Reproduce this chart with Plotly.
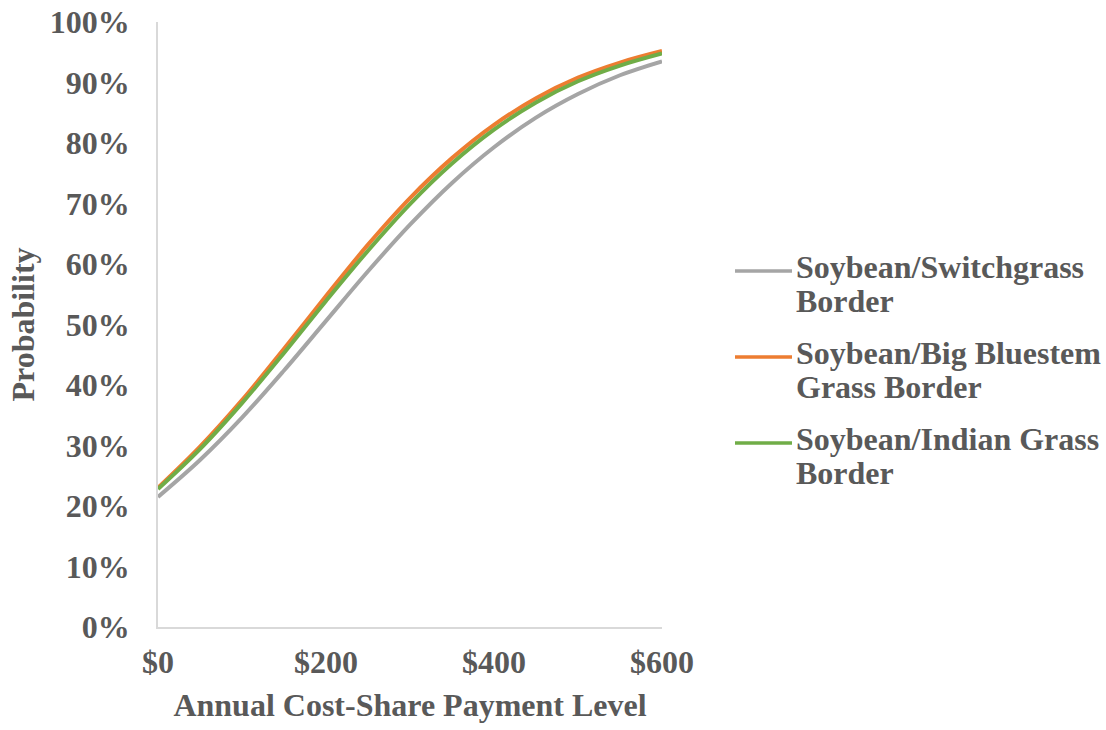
import plotly.graph_objects as go

# Annual cost-share payment level ($)
payment = [0, 50, 100, 150, 200, 250, 300, 350, 400, 450, 500, 550, 600]

# Predicted adoption probability (%) for each border type
switchgrass = [21.5, 27.6, 34.6, 42.4, 50.6, 58.8, 66.5, 73.4, 79.3, 84.2, 88.1, 91.2, 93.5]
big_bluestem = [23.0, 29.8, 37.5, 46.0, 54.7, 63.2, 70.9, 77.5, 83.0, 87.4, 90.8, 93.3, 95.2]
indian_grass = [22.8, 29.4, 37.0, 45.3, 53.9, 62.2, 69.9, 76.6, 82.2, 86.7, 90.2, 92.8, 94.8]

x_ticks = [0, 200, 400, 600]
x_tick_text = ["$0", "$200", "$400", "$600"]
y_ticks = [0, 10, 20, 30, 40, 50, 60, 70, 80, 90, 100]
y_tick_text = [f"{v}%" for v in y_ticks]

# legend label lines for each series
series = [
    (["Soybean/Switchgrass", "Border"], switchgrass, "#a5a5a5"),
    (["Soybean/Big Bluestem", "Grass Border"], big_bluestem, "#ed7d31"),
    (["Soybean/Indian Grass", "Border"], indian_grass, "#70ad47"),
]

FONT = "Liberation Serif"
TEXT = "#595959"
SIZE = 32

fig = go.Figure()
for lines, vals, color in series:
    fig.add_trace(go.Scatter(
        x=payment, y=vals, name=" ".join(lines), mode="lines",
        line=dict(color=color, width=4, shape="spline", smoothing=1.0),
        showlegend=False,
    ))

# Legend drawn beside the plot: a short line sample plus two text rows per entry
W, H = 1106, 730
L, R, T, B = 158, 444, 22, 103
pw, ph = W - L - R, H - T - B


def px_x(x):
    return (x - L) / pw


def px_y(y):
    return 1 - (y - T) / ph


row_tops = [271, 357, 443]
for (lines, _, color), y0 in zip(series, row_tops):
    fig.add_shape(type="line", xref="paper", yref="paper",
                  x0=px_x(735), x1=px_x(792), y0=px_y(y0), y1=px_y(y0),
                  line=dict(color=color, width=3.5))
    for k, txt in enumerate(lines):
        fig.add_annotation(xref="paper", yref="paper", x=px_x(794), y=px_y(y0 - 4 + 34 * k),
                           xanchor="left", yanchor="middle", showarrow=False,
                           text=f"<b>{txt}</b>",
                           font=dict(family=FONT, size=SIZE, color=TEXT))

fig.update_layout(
    width=W, height=H,
    margin=dict(l=L, r=R, t=T, b=B, autoexpand=False),
    paper_bgcolor="white", plot_bgcolor="white",
    font=dict(family=FONT, color=TEXT, size=SIZE),
    showlegend=False,
    xaxis=dict(
        range=[0, 600], tickvals=x_ticks, ticktext=x_tick_text,
        showgrid=False, zeroline=False, showline=True, linecolor="#d9d9d9", linewidth=1.5,
        ticks="", ticklen=0, ticklabelstandoff=6, automargin=False,
        tickfont=dict(family=FONT, size=SIZE, color=TEXT, weight="bold"),
        title=dict(text="<b>Annual Cost-Share Payment Level</b>", standoff=14,
                   font=dict(family=FONT, size=SIZE, color=TEXT)),
    ),
    yaxis=dict(
        range=[0, 100], tickvals=y_ticks, ticktext=y_tick_text,
        showgrid=False, zeroline=False, showline=True, linecolor="#d9d9d9", linewidth=1.5,
        ticks="", ticklen=0, ticklabelstandoff=20, automargin=False,
        tickfont=dict(family=FONT, size=SIZE, color=TEXT, weight="bold"),
        title=dict(text="<b>Probability</b>", standoff=6,
                   font=dict(family=FONT, size=SIZE, color=TEXT)),
    ),
)

fig.write_html("out.html")
